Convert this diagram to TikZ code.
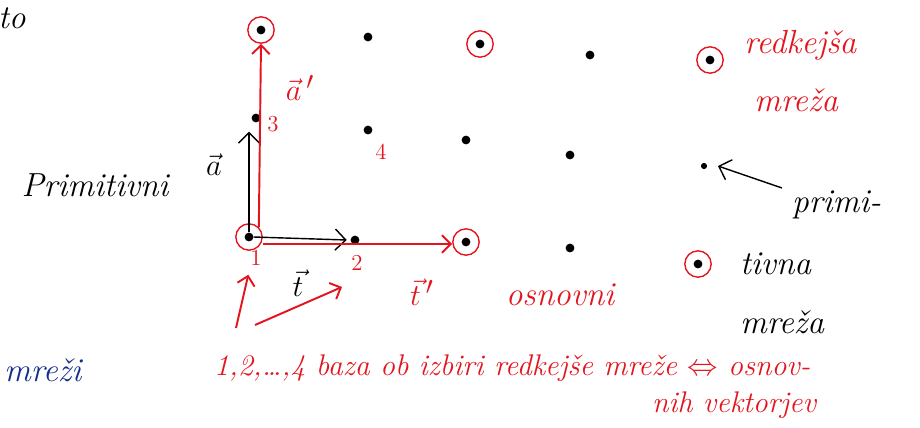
\documentclass[tikz,border=0pt]{standalone}
\usepackage{amsmath}
\usepackage{amssymb}
\usepackage{xcolor}
\usepackage{tikz}
\usetikzlibrary{arrows.meta}
\definecolor{penred}{RGB}{228,20,30}
\definecolor{penblue}{RGB}{20,45,140}

\begin{document}
\begin{tikzpicture}[x=0.02cm,y=-0.02cm,
    dot/.style={circle,fill=black,inner sep=0pt,minimum size=5pt},
    ring/.style={circle,draw=penred,thick,inner sep=0pt,minimum size=15pt},
    hand/.style={font=\fontsize{19}{22}\selectfont\itshape,inner sep=1pt},
    redhand/.style={hand,text=penred},
    numlbl/.style={redhand,font=\fontsize{13}{15}\selectfont},
    redvec/.style={penred,line width=1.1pt,-{Straight Barb[length=5pt]}},
    blkvec/.style={black,thick,-{Straight Barb[length=6pt]}}]
    \useasboundingbox (0,0) rectangle (920,427);

    % lattice points
    \foreach \n/\x/\y in {a/261/30, b/368/37, c/480/44, d/590/55,
                          e/256/118, f/368/130, g/466/140, h/570/155,
                          i/249/237, j/355/240, k/466/242, l/570/248} {
        \node[dot] (\n) at (\x,\y) {};
    }
    % points of the sparser lattice
    \foreach \n in {a,c,i,k} {
        \node[ring] (r\n) at (\n) {};
    }

    % primitive vectors
    \coordinate (etip) at ([yshift=-5pt]i.north |- e.south);
    \draw[blkvec] (i.north) -- (etip);
    \draw[blkvec] (i.east) -- ([xshift=-2pt]j.west);
    \node[hand] (avec) at (214,165) {$\vec{a}$};
    \node[hand] (tvec) at (298,283) {$\vec{t}$};
    \node[hand] (prim) at (95,185) {Primitivni};

    % vectors of the sparser lattice
    \draw[redvec] (ri.north east) -- (ra.south);
    \draw[redvec] ([yshift=-4pt]ri.east) -- ([yshift=-4pt]ri.east -| rk.west);
    \node[redhand] (avecr) at (300,88) {$\vec{a}\,'$};
    \node[redhand] (tvecr) at (422,292) {$\vec{t}\,'$};
    \node[redhand] (osn) at (560,295) {osnovni};

    % numbering of the basis
    \node[numlbl] (n1) at (256,258) {1};
    \node[numlbl] (n2) at (357,263) {2};
    \node[numlbl] (n3) at (273,124) {3};
    \node[numlbl] (n4) at (381,152) {4};
    \coordinate (s1) at (236,328);
    \coordinate (s2) at (255,325);
    \coordinate (s2e) at (342,287);
    \draw[redvec] (s1) -- ([yshift=-4pt]n1.south west);
    \draw[redvec] (s2) -- (s2e);

    % legend
    \node[dot] (lga) at (710,60) {};
    \node[ring] (lgr) at (lga) {};
    \node[redhand,anchor=west] (lgt1) at (742,45) {redkejša};
    \node[redhand,anchor=west] (lgt2) at (752,100) {mreža};
    \node[dot,minimum size=3.5pt] (lgb) at (704,166) {};
    \coordinate (lgs) at (782,188);
    \draw[blkvec] (lgs) -- ([xshift=6pt]lgb.east);
    \node[hand,anchor=west] (lgt3) at (790,205) {primi-};
    \node[dot] (lgc) at (698,264) {};
    \node[ring] (lgcr) at (lgc) {};
    \node[hand,anchor=west] (lgt4) at (738,264) {tivna};
    \node[hand,anchor=west] (lgt5) at (738,322) {mreža};

    % notes
    \node[hand,anchor=west] (top) at (-4,18) {to};
    \node[hand,text=penblue,anchor=west] (mrezi) at (2,370) {mreži};
    \node[redhand,anchor=west,font=\fontsize{17}{20}\selectfont\itshape] (note1) at (212,368)
        {1,2,\dots,4 baza ob izbiri redkejše mreže $\Leftrightarrow$ osnov-};
    \node[redhand,anchor=west,font=\fontsize{17}{20}\selectfont\itshape] (note2) at (650,405) {nih vektorjev};
\end{tikzpicture}
\end{document}
